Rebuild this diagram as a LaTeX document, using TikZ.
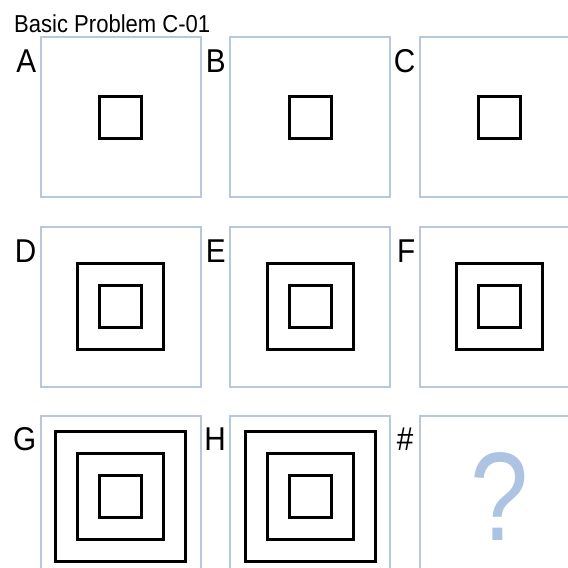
\documentclass[tikz,border=0pt]{standalone}
\usepackage{fontspec}
\setmainfont{Liberation Sans}[FakeStretch=0.9]
\newfontfamily\qfont{Liberation Sans}[FakeStretch=0.83]
\usetikzlibrary{positioning}
\definecolor{framegray}{RGB}{184,199,221}
\definecolor{qblue}{RGB}{172,196,226}

\begin{document}
\begin{tikzpicture}[x=1pt, y=1pt,
  panel/.style={draw=framegray, line width=2pt, minimum size=160pt,
                inner sep=0pt},
  sq/.style={draw, line width=3pt, minimum size=#1, inner sep=0pt},
  tag/.style={anchor=base east, inner sep=0pt,
              font=\fontsize{33}{33}\selectfont}]
\useasboundingbox (0,0) rectangle (568,568);
\clip (0,0) rectangle (568,568);
\node[anchor=base west, inner sep=0pt, font=\fontsize{24.5}{25}\selectfont]
  (title) at (14,535) {Basic Problem C-01};
% panels
\node[panel] (pA) at (120.5,450.5) {};
\node[panel, right=27.5pt of pA] (pB) {};
\node[panel, right=27.5pt of pB] (pC) {};
\node[panel, below=27.5pt of pA] (pD) {};
\node[panel, right=27.5pt of pD] (pE) {};
\node[panel, right=27.5pt of pE] (pF) {};
\node[panel, below=27.5pt of pD] (pG) {};
\node[panel, right=27.5pt of pG] (pH) {};
\node[panel, right=27.5pt of pH] (pI) {};
% letters
\node[tag] (tA) at ([xshift=-3pt, yshift=-36.5pt]pA.north west) {A};
\node[tag] (tB) at ([xshift=-3pt, yshift=-36.5pt]pB.north west) {B};
\node[tag] (tC) at ([xshift=-3pt, yshift=-36.5pt]pC.north west) {C};
\node[tag] (tD) at ([xshift=-3pt, yshift=-37pt]pD.north west) {D};
\node[tag] (tE) at ([xshift=-3pt, yshift=-37pt]pE.north west) {E};
\node[tag] (tF) at ([xshift=-3pt, yshift=-37pt]pF.north west) {F};
\node[tag] (tG) at ([xshift=-3pt, yshift=-35pt]pG.north west) {G};
\node[tag] (tH) at ([xshift=-3pt, yshift=-35pt]pH.north west) {H};
\node[tag] (tI) at ([xshift=-5pt, yshift=-35pt]pI.north west) {\#};
% nested squares
\node[sq=42pt] (sA1) at (pA) {};
\node[sq=42pt] (sB1) at (pB) {};
\node[sq=42pt] (sC1) at (pC) {};
\node[sq=42pt] (sD1) at (pD) {};
\node[sq=86pt] (sD2) at (pD) {};
\node[sq=42pt] (sE1) at (pE) {};
\node[sq=86pt] (sE2) at (pE) {};
\node[sq=42pt] (sF1) at (pF) {};
\node[sq=86pt] (sF2) at (pF) {};
\node[sq=42pt] (sG1) at (pG) {};
\node[sq=86pt] (sG2) at (pG) {};
\node[sq=130pt] (sG3) at (pG) {};
\node[sq=42pt] (sH1) at (pH) {};
\node[sq=86pt] (sH2) at (pH) {};
\node[sq=130pt] (sH3) at (pH) {};
\node[text=qblue, inner sep=0pt, font=\qfont\fontsize{126}{126}\selectfont]
  (qm) at (pI) {?};
\end{tikzpicture}
\end{document}
